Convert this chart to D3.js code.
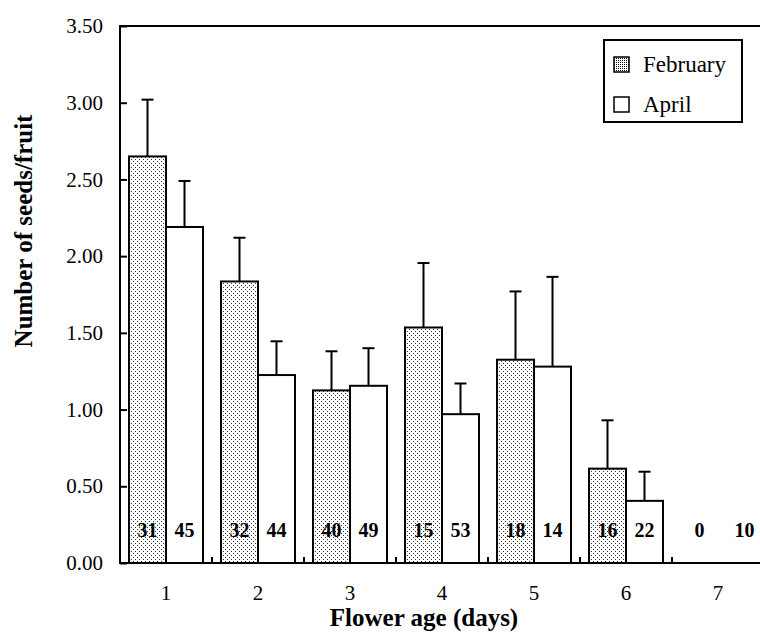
<!DOCTYPE html>
<html>
<head>
<meta charset="utf-8">
<script src="https://cdn.jsdelivr.net/npm/d3@7"></script>
<style>
  html, body { margin: 0; padding: 0; background: #fff; }
  svg { display: block; }
  text { font-family: "Liberation Serif", "Times New Roman", serif; fill: #000; }
</style>
</head>
<body>
<svg id="chart" width="760" height="635"></svg>
<script>
// ---- data ----
const categories = ["1", "2", "3", "4", "5", "6", "7"];
const seriesNames = ["February", "April"];
const febMeans = [2.65, 1.835, 1.125, 1.535, 1.325, 0.615, 0];
const febSE    = [0.37, 0.285, 0.255, 0.42, 0.445, 0.315, 0];
const febN     = [31, 32, 40, 15, 18, 16, 0];
const aprMeans = [2.19, 1.225, 1.155, 0.97, 1.28, 0.405, 0];
const aprSE    = [0.30, 0.22, 0.245, 0.20, 0.585, 0.19, 0];
const aprN     = [45, 44, 49, 53, 14, 22, 10];
const yTicks   = [0, 0.5, 1.0, 1.5, 2.0, 2.5, 3.0, 3.5];
const xTitle   = "Flower age (days)";
const yTitle   = "Number of seeds/fruit";

// ---- layout ----
const svg = d3.select("#chart");
const pLeft = 120, pRight = 764, pTop = 26, pBottom = 563;

const x = d3.scaleBand().domain(categories).range([pLeft, pRight]).padding(0);
const xs = d3.scaleBand().domain(seriesNames).range([0, x.bandwidth()])
  .paddingInner(0).paddingOuter(0.243);
const y = d3.scaleLinear().domain([0, 3.5]).range([pBottom, pTop]);

// patterns
const defs = svg.append("defs");
const pat = defs.append("pattern").attr("id", "dots")
  .attr("patternUnits", "userSpaceOnUse").attr("width", 4).attr("height", 4);
pat.append("rect").attr("width", 4).attr("height", 4).attr("fill", "#fff");
pat.append("rect").attr("x", 1).attr("y", 1).attr("width", 1).attr("height", 1).attr("fill", "#333");
pat.append("rect").attr("x", 3).attr("y", 3).attr("width", 1).attr("height", 1).attr("fill", "#333");
const pat2 = defs.append("pattern").attr("id", "dotsSmall")
  .attr("patternUnits", "userSpaceOnUse").attr("width", 2).attr("height", 2);
pat2.append("rect").attr("width", 2).attr("height", 2).attr("fill", "#fff");
pat2.append("rect").attr("x", 0).attr("y", 0).attr("width", 1).attr("height", 1).attr("fill", "#000");

const series = [
  { name: "February", means: febMeans, se: febSE, n: febN, fill: "url(#dots)" },
  { name: "April", means: aprMeans, se: aprSE, n: aprN, fill: "#fff" }
];

const rows = [];
series.forEach(s => categories.forEach((c, i) => rows.push({
  cat: c, series: s.name, mean: s.means[i], se: s.se[i], n: s.n[i], fill: s.fill
})));

const cx = d => x(d.cat) + xs(d.series) + xs.bandwidth() / 2;

// error bars
const eb = rows.filter(d => d.mean > 0 && d.se > 0);
svg.append("g").selectAll("line").data(eb).join("line")
  .attr("x1", cx).attr("x2", cx)
  .attr("y1", d => y(d.mean)).attr("y2", d => y(d.mean + d.se))
  .attr("stroke", "#000").attr("stroke-width", 2);
svg.append("g").selectAll("line").data(eb).join("line")
  .attr("x1", d => cx(d) - 6).attr("x2", d => cx(d) + 6)
  .attr("y1", d => y(d.mean + d.se)).attr("y2", d => y(d.mean + d.se))
  .attr("stroke", "#000").attr("stroke-width", 2);

// bars
svg.append("g").selectAll("rect").data(rows.filter(d => d.mean > 0)).join("rect")
  .attr("x", d => x(d.cat) + xs(d.series))
  .attr("width", xs.bandwidth())
  .attr("y", d => y(d.mean))
  .attr("height", d => y(0) - y(d.mean))
  .attr("fill", d => d.fill)
  .attr("stroke", "#000").attr("stroke-width", 2);

// sample size labels
svg.append("g").selectAll("text").data(rows).join("text")
  .attr("x", d => cx(d) + (d.mean === 0 && d.series === "April" ? 8 : 0)).attr("y", 537)
  .attr("text-anchor", "middle")
  .attr("font-size", 20).attr("font-weight", "bold")
  .text(d => d.n);

// y axis
const yAxis = d3.axisRight(y).tickValues(yTicks).tickSize(7).tickFormat(() => "");
const gy = svg.append("g").attr("transform", `translate(${pLeft},0)`).call(yAxis);
gy.select(".domain").remove();
gy.selectAll(".tick line").attr("stroke", "#000").attr("stroke-width", 2);
svg.append("g").selectAll("text").data(yTicks).join("text")
  .attr("x", 103).attr("y", d => y(d)).attr("dy", "0.34em")
  .attr("text-anchor", "end").attr("font-size", 21)
  .text(d => d3.format(".2f")(d));
svg.append("line").attr("x1", pLeft).attr("x2", pLeft).attr("y1", pTop - 1).attr("y2", pBottom + 1)
  .attr("stroke", "#000").attr("stroke-width", 2);

// top frame line
svg.append("line").attr("x1", pLeft).attr("x2", 760).attr("y1", pTop).attr("y2", pTop)
  .attr("stroke", "#000").attr("stroke-width", 2);

// x axis
svg.append("line").attr("x1", pLeft - 1).attr("x2", 760).attr("y1", pBottom).attr("y2", pBottom)
  .attr("stroke", "#000").attr("stroke-width", 2);
const boundaries = categories.slice(1).map(c => x(c));
svg.append("g").selectAll("line").data(boundaries).join("line")
  .attr("x1", d => d).attr("x2", d => d)
  .attr("y1", pBottom).attr("y2", pBottom - 6)
  .attr("stroke", "#000").attr("stroke-width", 2);
svg.append("g").selectAll("text").data(categories).join("text")
  .attr("x", d => x(d) + x.bandwidth() / 2).attr("y", 600)
  .attr("text-anchor", "middle").attr("font-size", 21)
  .text(d => d);

// titles
svg.append("text").attr("x", 424).attr("y", 626)
  .attr("text-anchor", "middle").attr("font-size", 25).attr("font-weight", "bold")
  .text(xTitle);
svg.append("text").attr("transform", "translate(32,231) rotate(-90)")
  .attr("text-anchor", "middle").attr("font-size", 25).attr("font-weight", "bold")
  .text(yTitle);

// legend
const lg = svg.append("g");
lg.append("rect").attr("x", 604).attr("y", 40).attr("width", 138).attr("height", 82)
  .attr("fill", "#fff").attr("stroke", "#000").attr("stroke-width", 2);
const legendItems = [
  { name: seriesNames[0], fill: "url(#dotsSmall)", ly: 72 },
  { name: seriesNames[1], fill: "#fff", ly: 112 }
];
legendItems.forEach(it => {
  lg.append("rect").attr("x", 614).attr("y", it.ly - 15).attr("width", 15).attr("height", 15)
    .attr("fill", it.fill).attr("stroke", "#000").attr("stroke-width", 1.5);
  lg.append("text").attr("x", 643).attr("y", it.ly).attr("font-size", 23).text(it.name);
});
</script>
</body>
</html>
